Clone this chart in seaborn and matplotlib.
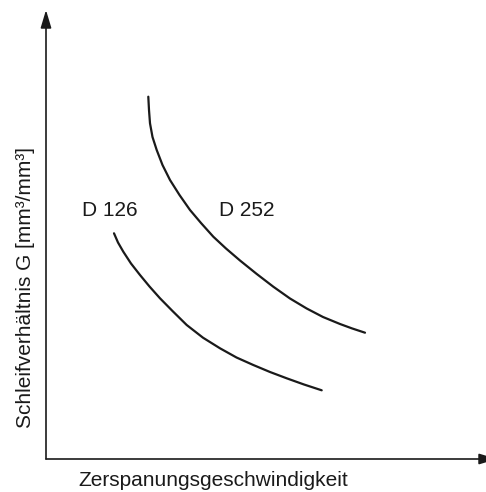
import numpy as np
import pandas as pd
import seaborn as sns
import matplotlib.pyplot as plt

# curve points (arbitrary units, no ticks in the original)
d252_x = [102.3, 103.0, 104.0, 106.5, 110.7, 116.5, 124.0, 133.5, 144.0, 155.0,
          167.3, 180.0, 194.0, 210.5, 227.3, 244.0, 260.7, 277.0, 294.0, 306.0, 319.0]
d252_y = [362.3, 349.0, 335.7, 322.0, 309.0, 294.0, 279.0, 264.0, 249.0, 236.0,
          222.3, 210.5, 198.5, 185.2, 172.3, 160.5, 150.5, 142.0, 135.0, 130.6, 126.3]
d126_x = [68.0, 72.0, 77.3, 85.0, 94.0, 103.5, 114.0, 126.5, 140.7, 157.0,
          174.0, 190.5, 207.3, 224.0, 240.7, 258.0, 275.7]
d126_y = [225.7, 216.5, 207.3, 195.5, 184.0, 172.5, 160.7, 148.0, 134.0, 121.3,
          110.7, 101.5, 94.0, 87.0, 80.7, 74.5, 68.7]
labels = ["D 126", "D 252"]
label_x = [64, 201]
label_y = [248.5, 248.5]

sns.set_style("white")
plt.rcParams['font.family'] = ['Liberation Sans', 'DejaVu Sans']

df = pd.concat([
    pd.DataFrame({"x": d126_x, "y": d126_y, "grain": "D 126"}),
    pd.DataFrame({"x": d252_x, "y": d252_y, "grain": "D 252"}),
])

ink = "#1a1a1a"
fig = plt.figure(figsize=(4.86, 4.92), dpi=100)
ax = fig.add_axes([46 / 486, 33 / 492, 440 / 486, 449 / 492])

sns.lineplot(data=df, x="x", y="y", units="grain", estimator=None, sort=False,
             color=ink, linewidth=1.6, ax=ax)

for lab, lx, ly in zip(labels, label_x, label_y):
    ax.text(lx, ly, lab, fontsize=15, color=ink, ha="center", va="center")

ax.set_xlim(0, 440)
ax.set_ylim(0, 449)
ax.set_xticks([])
ax.set_yticks([])
ax.set_xlabel("")
ax.set_ylabel("")
for s in ax.spines.values():
    s.set_visible(False)

# axes drawn as arrows
arrow = dict(arrowstyle="-|>,head_length=0.6,head_width=0.18", color=ink, lw=1.2,
             mutation_scale=18, shrinkA=0, shrinkB=0)
ax.annotate("", xy=(0, 1.0), xytext=(0, 0), xycoords="axes fraction",
            arrowprops=arrow, annotation_clip=False)
ax.annotate("", xy=(1.025, 0), xytext=(0, 0), xycoords="axes fraction",
            arrowprops=arrow, annotation_clip=False)

ax.text(0.3795, -0.0468, "Zerspanungsgeschwindigkeit", transform=ax.transAxes,
        fontsize=15, color=ink, ha="center", va="center")
ax.text(-0.0455, 0.381, "Schleifverhältnis G [mm³/mm³]", transform=ax.transAxes,
        fontsize=15, color=ink, ha="center", va="center", rotation=90)

fig.savefig("out.png", dpi=100)
